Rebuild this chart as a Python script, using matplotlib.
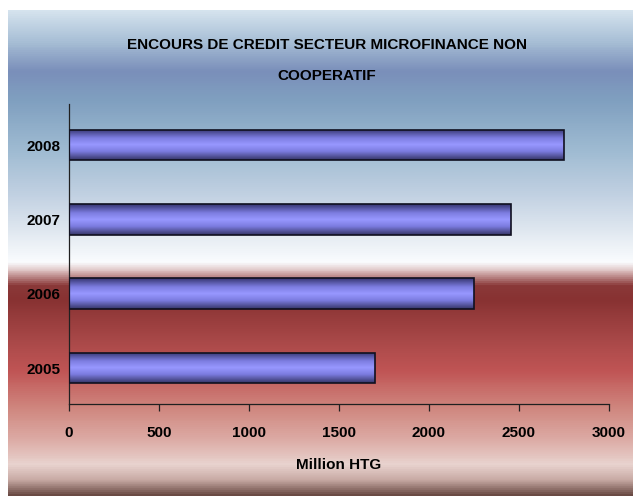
import numpy as np
import matplotlib
matplotlib.use("Agg")
import matplotlib.pyplot as plt
from matplotlib.colors import LinearSegmentedColormap
from matplotlib.font_manager import FontProperties

years = ["2005", "2006", "2007", "2008"]
values = [1700, 2250, 2455, 2750]
xticks = [0, 500, 1000, 1500, 2000, 2500, 3000]
title = "ENCOURS DE CREDIT SECTEUR MICROFINANCE NON\nCOOPERATIF"
xlabel = "Million HTG"

W, H = 633, 496
fig = plt.figure(figsize=(W / 100, H / 100), dpi=100)
fig.patch.set_facecolor("white")

# background gradient (image y in px, colour)
stops = [(10, "#d5e3ee"), (40, "#a8bfd6"), (70, "#7a8fba"), (100, "#80a0c0"),
         (150, "#9fbbd2"), (200, "#c6d4e4"), (240, "#e8eef4"), (262, "#fafcfe"),
         (272, "#d8b8b8"), (286, "#8a3838"), (300, "#883232"), (340, "#a84848"),
         (372, "#c05555"), (410, "#d08880"), (440, "#dcaaa4"), (466, "#e9d3cf"),
         (481, "#c8aaa4"), (496, "#6a4a44")]
y0, y1 = 10, 496
bg_cmap = LinearSegmentedColormap.from_list(
    "bg", [((y - y0) / (y1 - y0), c) for y, c in stops])
bg = fig.add_axes([8 / W, 0, 1 - 8 / W, 1 - 10 / H], zorder=-10)
bg.imshow(np.linspace(0, 1, 500).reshape(-1, 1), aspect="auto", cmap=bg_cmap,
          extent=[0, 1, 0, 1], origin="upper")
bg.axis("off")

ax = fig.add_axes([69 / W, 1 - 404 / H, 540 / W, 300 / H])
ax.patch.set_alpha(0)

ypos = np.arange(len(years))
bars = ax.barh(ypos, values, height=0.41, color="none", edgecolor="#101020",
               linewidth=1.2, zorder=3)

bar_cmap = LinearSegmentedColormap.from_list(
    "bar", [(0, "#363670"), (0.28, "#7c7ce0"), (0.5, "#9898ff"),
            (0.72, "#7c7ce0"), (1, "#363668")])
grad = np.linspace(0, 1, 100).reshape(-1, 1)
for b in bars:
    x, y, w, h = b.get_x(), b.get_y(), b.get_width(), b.get_height()
    im = ax.imshow(grad, aspect="auto", cmap=bar_cmap, origin="upper",
                   extent=[x, x + w, y, y + h], zorder=2)
    im.set_clip_path(b)

ax.set_xlim(0, 3000)
ax.set_ylim(-0.484, 3.552)
ax.set_xticks(xticks)
ax.set_yticks(ypos)
ax.set_yticklabels(years)
for s in ["top", "right"]:
    ax.spines[s].set_visible(False)
for s in ["left", "bottom"]:
    ax.spines[s].set_color("#202020")
    ax.spines[s].set_linewidth(0.9)
ax.tick_params(axis="x", length=5, width=0.9, color="#202020", pad=11)
ax.tick_params(axis="y", length=0, pad=6)
tick_font = dict(family="Liberation Sans", weight="bold", size=11)
for lab in ax.get_xticklabels() + ax.get_yticklabels():
    lab.set_fontproperties(FontProperties(**tick_font))
ax.set_xlabel(xlabel, fontdict=tick_font, labelpad=13)

fig.text(327 / W, 1 - 60.5 / H, title, ha="center", va="center",
         family="Liberation Sans", weight="bold", size=11, linespacing=2.5)

fig.savefig("out.png", dpi=100)
